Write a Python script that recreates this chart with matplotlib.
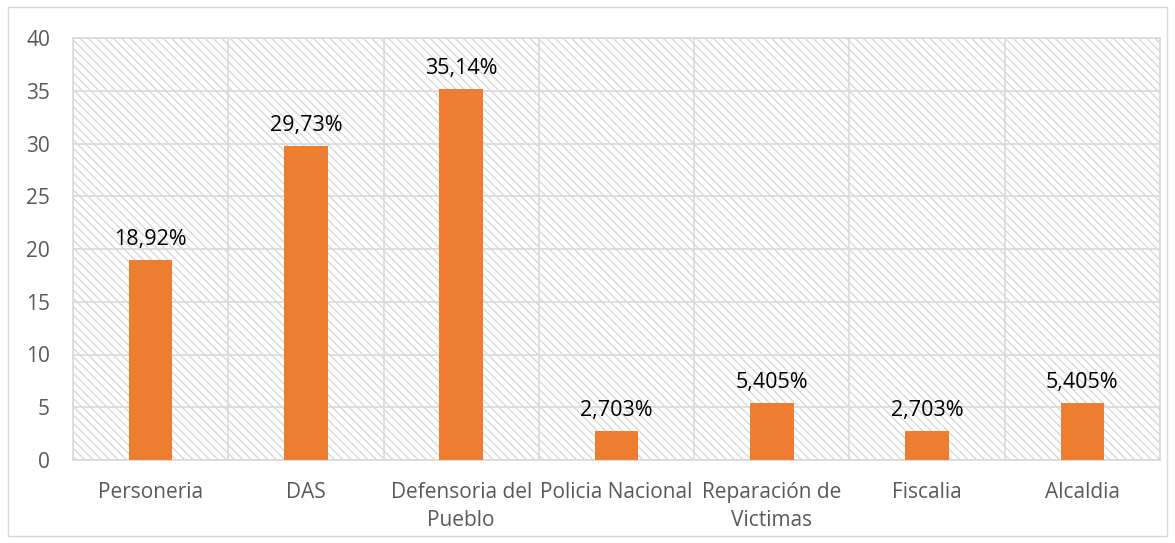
import matplotlib
matplotlib.use("Agg")
import matplotlib.pyplot as plt
from matplotlib.patches import Rectangle
import numpy as np

categories = ["Personeria", "DAS", "Defensoria del\nPueblo", "Policia Nacional",
              "Reparación de\nVictimas", "Fiscalia", "Alcaldia"]
values = [18.92, 29.73, 35.14, 2.703, 5.405, 2.703, 5.405]
labels = ["18,92%", "29,73%", "35,14%", "2,703%", "5,405%", "2,703%", "5,405%"]
yticks = [0, 5, 10, 15, 20, 25, 30, 35, 40]

GRID = "#d9d9d9"
BAR = "#ed7d31"

plt.rcParams["font.family"] = ["Open Sans", "DejaVu Sans"]
plt.rcParams["hatch.linewidth"] = 0.9

fig = plt.figure(figsize=(11.75, 5.43), dpi=100)
fig.patch.set_facecolor("white")
fig.add_artist(Rectangle((8 / 1175, 7 / 543), 1159 / 1175, 529 / 543,
                         transform=fig.transFigure, fill=False,
                         edgecolor=GRID, linewidth=1.0))

ax = fig.add_axes([73 / 1175, 1 - 460 / 543, 1087 / 1175, 422 / 543])
ax.set_facecolor("white")
# diagonal hatch background of plot area
ax.add_patch(Rectangle((0, 0), 1, 1, transform=ax.transAxes, facecolor="white",
                       edgecolor="#d6d6d6", linewidth=0, hatch="\\\\\\\\", zorder=0))

x = np.arange(len(categories))
ax.bar(x, values, width=0.28, color=BAR, zorder=3)
for xi, v, lab in zip(x, values, labels):
    ax.text(xi, v + 0.95, lab, ha="center", va="bottom", fontsize=15.5,
            color="black", zorder=4)

ax.set_xlim(-0.5, len(categories) - 0.5)
ax.set_ylim(0, 40)
ax.set_yticks(yticks)
ax.set_xticks(x)
ax.set_xticklabels(categories, fontsize=15, color="#595959", linespacing=1.4)
ax.tick_params(axis="y", length=0, pad=16.5, labelsize=15, labelcolor="#595959")
ax.tick_params(axis="x", length=0, pad=16)

# horizontal gridlines and vertical category separators
for yv in yticks:
    ax.axhline(yv, color=GRID, linewidth=1.2, zorder=1)
for b in np.arange(-0.5, len(categories), 1.0):
    ax.axvline(b, color=GRID, linewidth=1.2, zorder=1)

for s in ax.spines.values():
    s.set_color(GRID)
    s.set_linewidth(1.2)

fig.savefig("out.png", dpi=100, facecolor="white")
